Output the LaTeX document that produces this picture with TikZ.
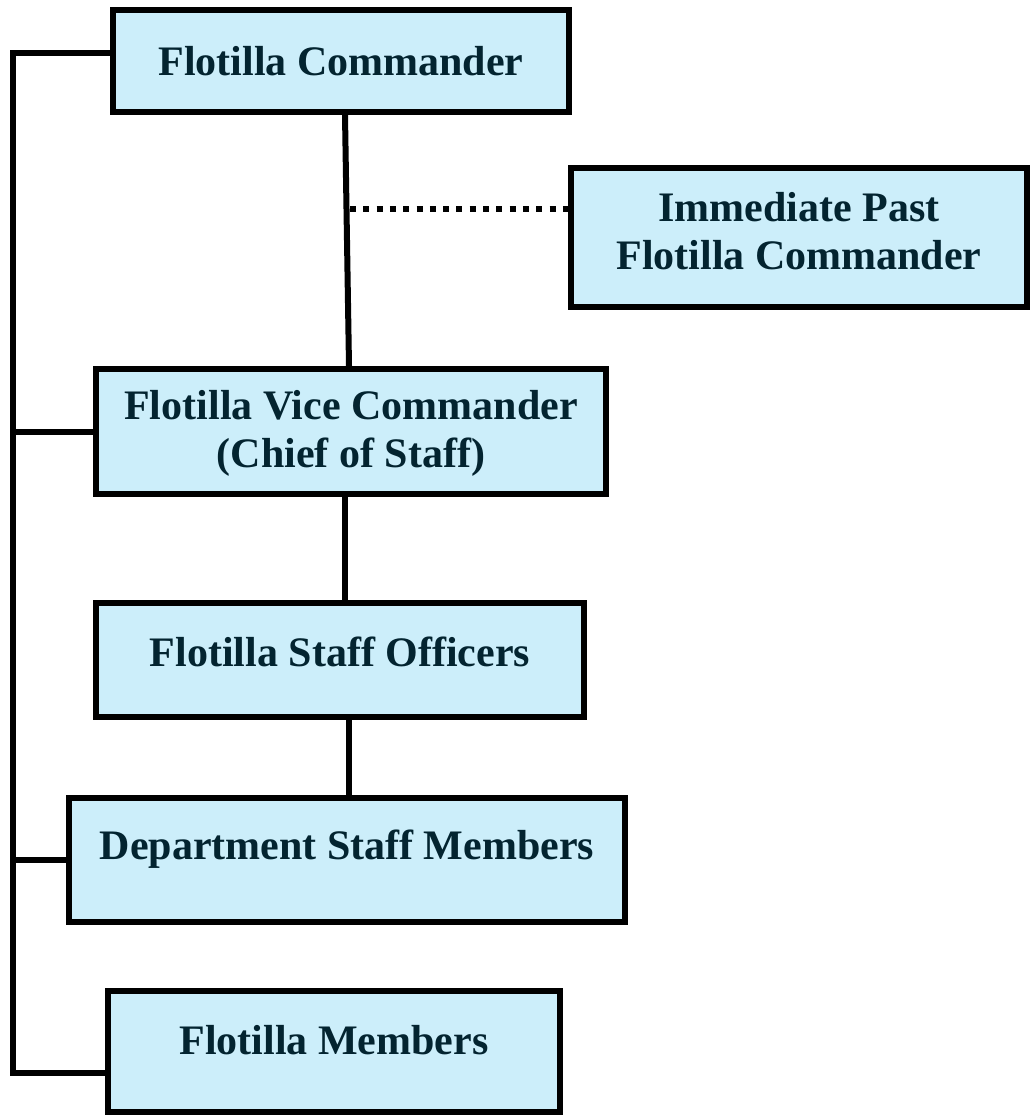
\documentclass[tikz,border=0pt]{standalone}
\usepackage{fontspec}
\setmainfont{Liberation Serif}
\usetikzlibrary{positioning,calc}
\definecolor{boxfill}{RGB}{204,238,250}
\definecolor{ink}{RGB}{3,36,48}

\begin{document}
\begin{tikzpicture}[
  x=1pt,y=-1pt,
  every node/.style={align=center},
  unit/.style={rectangle,draw,line width=6pt,fill=boxfill,text=ink,inner sep=0pt,
    font=\fontsize{42}{48}\selectfont\bfseries},
  wire/.style={line width=6pt},
  leader/.style={line width=6pt,dash pattern=on 6pt off 7.3pt}
]
\useasboundingbox (0,0) rectangle (1033,1119);
\node[unit,minimum width=456pt,text height=65pt,text depth=37pt] (cmd) at (341,61) {Flotilla Commander};
\node[unit,minimum width=456pt,text height=101pt,text depth=38pt] (past) at (799,237.5) {Immediate Past\\Flotilla Commander};
\node[unit,minimum width=510pt,text height=98pt,text depth=27pt] (vice) at (351,431.5) {Flotilla Vice Commander\\(Chief of Staff)};
\node[unit,minimum width=488pt,text height=63pt,text depth=51pt] (staff) at (340,660) {Flotilla Staff Officers};
\node[unit,minimum width=556pt,text height=61pt,text depth=63pt] (dept) at (347,860) {Department Staff Members};
\node[unit,minimum width=452pt,text height=63pt,text depth=58pt] (mem) at (334,1051.5) {Flotilla Members};
\coordinate (tap) at (350,209);
\coordinate (spinebot) at (13,1073);
\draw[wire] ([xshift=4pt]cmd.south) -- ([xshift=-2pt]vice.north);
\draw[wire] ([xshift=-6pt]vice.south) -- ([xshift=5pt]staff.north);
\draw[wire] ([xshift=9pt]staff.south) -- ([xshift=2pt]dept.north);
\draw[leader] (tap) -- (tap -| past.west);
\draw[wire] ([yshift=8pt]cmd.west) -| (spinebot) -- ([yshift=-21.5pt]mem.west);
\draw[wire] (vice.west) -- (vice.west -| spinebot);
\draw[wire] (dept.west) -- (dept.west -| spinebot);
\end{tikzpicture}
\end{document}
